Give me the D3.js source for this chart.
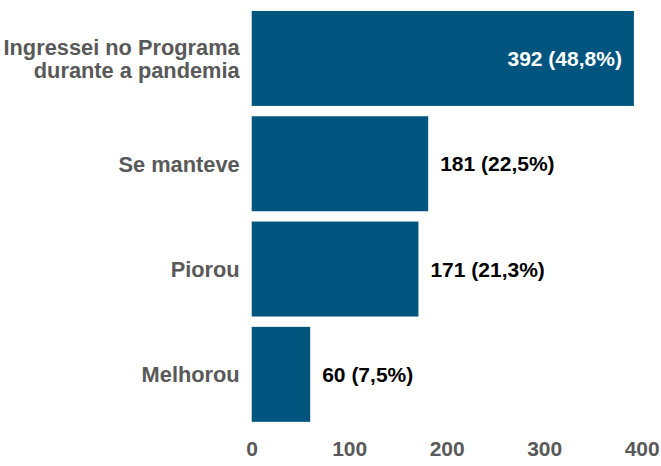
<!DOCTYPE html>
<html><head><meta charset="utf-8">
<script src="https://cdn.jsdelivr.net/npm/d3@7"></script>
<style>body{margin:0;background:#fff}svg{display:block}</style>
</head><body>
<svg id="c" width="661" height="466"></svg>
<script>
const categories = [["Ingressei no Programa","durante a pandemia"],["Se manteve"],["Piorou"],["Melhorou"]];
const values = [392, 181, 171, 60];
const valueLabels = ["392 (48,8%)","181 (22,5%)","171 (21,3%)","60 (7,5%)"];
const ticks = [0, 100, 200, 300, 400];

const svg = d3.select("#c");
const font = "'Liberation Sans', Arial, sans-serif";
const x = d3.scaleLinear().domain([0, 400]).range([251.7, 641.7]);
const y = d3.scaleBand().domain(d3.range(values.length)).range([5.7, 427.1]).paddingInner(0.098).paddingOuter(0.05);

svg.selectAll("rect.bar").data(values).join("rect")
  .attr("x", x(0)).attr("y", (d,i)=>y(i))
  .attr("width", d=>x(d)-x(0)).attr("height", y.bandwidth())
  .attr("fill", "#00557F");

// category labels
categories.forEach((lines,i)=>{
  const cy = y(i) + y.bandwidth()/2;
  const t = svg.append("text").attr("text-anchor","end")
    .attr("font-family", font).attr("font-weight","bold").attr("font-size","21.8px")
    .attr("fill","#595959");
  const lh = 23.5;
  lines.forEach((l,k)=>{
    t.append("tspan").attr("x", x(0)-12)
      .attr("y", cy + (k - (lines.length-1)/2)*lh).attr("dy","0.36em").text(l);
  });
});

// value labels
values.forEach((v,i)=>{
  const cy = y(i) + y.bandwidth()/2;
  const inside = v > 300;
  svg.append("text")
    .attr("x", inside ? x(v)-12 : x(v)+12)
    .attr("y", cy).attr("dy","0.36em")
    .attr("text-anchor", inside ? "end" : "start")
    .attr("font-family", font).attr("font-weight","bold").attr("font-size","21px")
    .attr("fill", inside ? "#ffffff" : "#000000")
    .text(valueLabels[i]);
});

// x axis
const ax = svg.append("g").attr("transform","translate(0,441)")
  .call(d3.axisBottom(x).tickValues(ticks).tickSize(0).tickPadding(0).tickFormat(d3.format("d")));
ax.select(".domain").remove();
ax.selectAll("text").attr("font-family", font).attr("font-weight","bold")
  .attr("font-size","21px").attr("fill","#595959").attr("dy","0.71em");
</script>
</body></html>
